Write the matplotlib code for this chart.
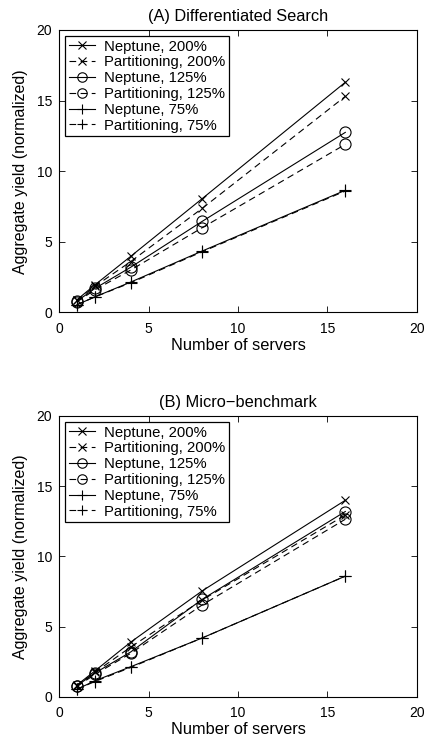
import matplotlib
matplotlib.use("Agg")
import matplotlib.pyplot as plt

plt.rcParams["font.family"] = ["Liberation Sans", "DejaVu Sans"]
plt.rcParams["font.size"] = 10

servers = [1, 2, 4, 8, 16]

# (A) Differentiated Search
a_nep_200 = [0.9, 1.95, 3.97, 8.06, 16.3]
a_part_200 = [0.85, 1.85, 3.6, 7.37, 15.3]
a_nep_125 = [0.8, 1.7, 3.2, 6.45, 12.75]
a_part_125 = [0.75, 1.6, 3.0, 6.0, 11.9]
a_nep_75 = [0.55, 1.1, 2.15, 4.35, 8.65]
a_part_75 = [0.55, 1.1, 2.1, 4.3, 8.6]

# (B) Micro-benchmark
b_nep_200 = [0.85, 1.85, 3.9, 7.55, 14.0]
b_part_200 = [0.8, 1.75, 3.55, 6.9, 12.95]
b_nep_125 = [0.8, 1.7, 3.2, 6.95, 13.2]
b_part_125 = [0.75, 1.6, 3.1, 6.55, 12.65]
b_nep_75 = [0.55, 1.15, 2.15, 4.2, 8.6]
b_part_75 = [0.55, 1.1, 2.1, 4.2, 8.6]

labels = ["Neptune, 200%", "Partitioning, 200%", "Neptune, 125%",
          "Partitioning, 125%", "Neptune, 75%", "Partitioning, 75%"]
markers = ["x", "x", "o", "o", "+", "+"]
msizes = [6, 6, 8, 8, 9, 9]
styles = ["-", "--", "-", "--", "-", "--"]

panels = [
    ("(A) Differentiated Search",
     [a_nep_200, a_part_200, a_nep_125, a_part_125, a_nep_75, a_part_75]),
    ("(B) Micro\u2212benchmark",
     [b_nep_200, b_part_200, b_nep_125, b_part_125, b_nep_75, b_part_75]),
]

fig = plt.figure(figsize=(4.28, 7.44), dpi=100)
rects = [[0.138, 0.580, 0.836, 0.3797], [0.138, 0.0632, 0.836, 0.3777]]

for rect, (title, series) in zip(rects, panels):
    ax = fig.add_axes(rect)
    for ys, lab, m, ms, ls in zip(series, labels, markers, msizes, styles):
        ax.plot(servers, ys, color="black", linestyle=ls, linewidth=0.8,
                marker=m, markersize=ms, markerfacecolor="none",
                markeredgewidth=0.8, dashes=(6, 4) if ls == "--" else (None, None),
                label=lab)
    ax.set_xlim(0, 20)
    ax.set_ylim(0, 20)
    ax.set_xticks([0, 5, 10, 15, 20])
    ax.set_yticks([0, 5, 10, 15, 20])
    ax.tick_params(direction="in", top=True, right=True, length=4, width=0.6,
                   labelsize=10)
    ax.tick_params(axis="x", pad=6.5)
    ax.tick_params(axis="y", pad=5)
    for sp in ax.spines.values():
        sp.set_linewidth(0.8)
    ax.set_title(title, fontsize=11.8, pad=6.5)
    ax.set_xlabel("Number of servers", fontsize=11.8, labelpad=1.5)
    ax.set_ylabel("Aggregate yield (normalized)", fontsize=11.5, labelpad=6)
    leg = ax.legend(loc="upper left", handlelength=1.8, handletextpad=0.6,
                    borderpad=0.25, labelspacing=0.12, fancybox=False,
                    edgecolor="black", framealpha=1, fontsize=10.7,
                    borderaxespad=0.4, markerscale=0.85)
    leg.get_frame().set_linewidth(0.9)

fig.savefig("out.png", dpi=100)
